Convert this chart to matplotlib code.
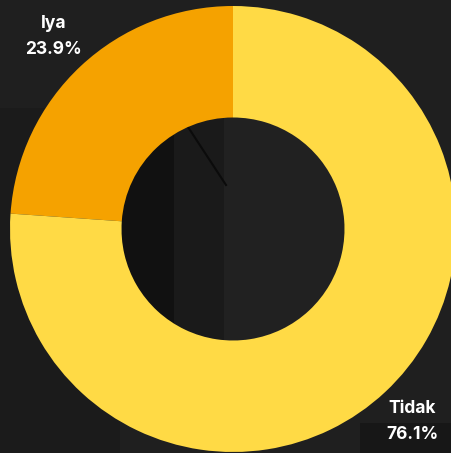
import matplotlib
matplotlib.use('Agg')
import matplotlib.pyplot as plt
import matplotlib.patches as mpatches

# data
labels = ['Iya', 'Tidak']
values = [23.9, 76.1]

ORANGE = '#f5a200'
YELLOW = '#ffda45'
BG = '#1f1f1f'
WHITE = '#ffffff'

W, H = 452, 453
fig = plt.figure(figsize=(W / 100, H / 100), dpi=100)
fig.patch.set_facecolor(BG)
ax = fig.add_axes([0, 0, 1, 1])
ax.set_facecolor(BG)

# dark photo-like backdrop panels (pixel coords, y measured from bottom)
backdrop = [
    (0, 0, 120, 345, '#1b1b1b'),
    (122, 100, 52, 245, '#111111'),
    (174, 100, 50, 245, '#1a1a1a'),
    (224, 100, 130, 245, '#212121'),
    (360, 0, 92, 30, '#171717'),
]
for x0, y0, w, h, c in backdrop:
    ax.add_patch(mpatches.Rectangle((x0, y0), w, h, color=c, zorder=0, lw=0))
ax.plot([188, 226], [326, 268], color='#0b0b0b', lw=1.5, zorder=1)

wedges, texts = ax.pie(values, labels=[f'{l}\n{v}%' for l, v in zip(labels, values)],
                       colors=[ORANGE, YELLOW], startangle=90, counterclock=True,
                       center=(233, 224), radius=223, labeldistance=1.18,
                       wedgeprops={'width': 111.5, 'linewidth': 0, 'zorder': 2},
                       textprops={'color': WHITE, 'fontsize': 12.5, 'fontweight': 'bold',
                                  'family': ['Inter', 'DejaVu Sans']})
for t in texts:
    t.set_ha('center')
    t.set_va('center')
    t.set_linespacing(1.65)
    t.set_zorder(3)

ax.set_xlim(0, W)
ax.set_ylim(0, H)
ax.set_aspect('equal')
ax.axis('off')

fig.savefig('out.png', dpi=100, facecolor=BG)
